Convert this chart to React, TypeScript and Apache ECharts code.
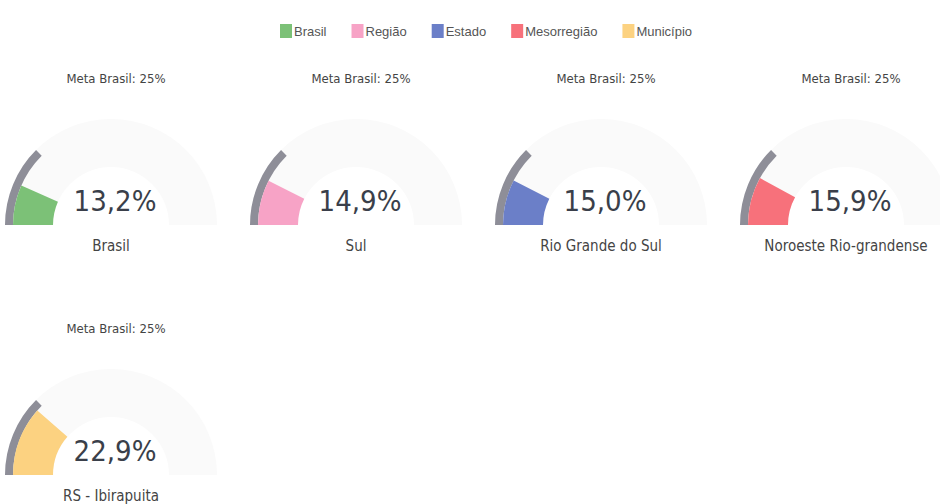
import React, { useEffect, useRef } from "react";
import * as echarts from "echarts";

const names = ["Brasil", "Sul", "Rio Grande do Sul", "Noroeste Rio-grandense", "RS - Ibirapuita"];
const levels = ["Brasil", "Região", "Estado", "Mesorregião", "Município"];
const values = [13.2, 14.9, 15.0, 15.9, 22.9];
const metaValue = 25;
const metaLabel = "Meta Brasil: 25%";
const colors = ["#7cc177", "#f7a3c6", "#6b7fc8", "#f7717b", "#fcd281"];

const FONT = "'DejaVu Sans Condensed', 'Liberation Sans Narrow', 'Open Sans', sans-serif";

export default function App() {
  const ref = useRef<HTMLDivElement>(null);
  useEffect(() => {
    if (!ref.current) return;
    const chart = echarts.init(ref.current, undefined, { renderer: "svg" });
    const colX = [111, 356, 601, 846];
    const rowY = [225, 475];
    const R = 106;
    const band = 8;
    const r0 = 58;
    const series: any[] = [];
    const titles: any[] = [];
    values.forEach((v, i) => {
      const cx = colX[i % 4];
      const cy = rowY[Math.floor(i / 4)];
      const base = {
        type: "gauge",
        center: [cx, cy],
        startAngle: 180,
        endAngle: 0,
        min: 0,
        max: 100,
        pointer: { show: false },
        axisTick: { show: false },
        splitLine: { show: false },
        axisLabel: { show: false },
        silent: true,
      };
      series.push({
        ...base,
        name: "bg" + i,
        radius: R,
        axisLine: { lineStyle: { width: R - r0, color: [[1, "#fafafa"]] } },
        title: { show: false },
        detail: { show: false },
        data: [{ value: 0 }],
      });
      series.push({
        ...base,
        name: "meta" + i,
        radius: R,
        axisLine: { show: false },
        progress: { show: true, width: band, itemStyle: { color: "#8e8e98" } },
        title: { show: false },
        detail: { show: false },
        data: [{ value: metaValue }],
      });
      series.push({
        ...base,
        name: levels[i],
        radius: R - band,
        axisLine: { show: false },
        itemStyle: { color: colors[i] },
        progress: { show: true, width: R - band - r0, itemStyle: { color: colors[i] } },
        title: {
          show: true,
          offsetCenter: [0, 21],
          fontSize: 15,
          color: "#444",
          fontFamily: FONT,
        },
        detail: {
          show: true,
          offsetCenter: [4, -24],
          fontSize: 29,
          fontWeight: "normal",
          color: "#3a3f4a",
          fontFamily: FONT,
          formatter: (val: number) => val.toFixed(1).replace(".", ",") + "%",
        },
        data: [{ value: v, name: names[i] }],
      });
      titles.push({
        text: metaLabel,
        left: cx,
        top: cy - 158,
        textAlign: "center",
        textStyle: { fontSize: 13, fontWeight: "normal", color: "#444", fontFamily: FONT },
      });
    });
    chart.setOption({
      animation: false,
      backgroundColor: "#ffffff",
      title: titles,
      color: colors,
      legend: {
        data: levels.map((n, i) => ({ name: n, itemStyle: { color: colors[i] } })),
        left: 275,
        top: 19,
        icon: "rect",
        itemWidth: 12,
        itemHeight: 14,
        itemGap: 25,
        selectedMode: false,
        textStyle: { fontSize: 13, color: "#555", fontFamily: "'Liberation Sans', Arial, sans-serif", padding: [0, 0, 0, -3] },
      },
      series,
    });
    return () => chart.dispose();
  }, []);
  return <div ref={ref} style={{ width: 940, height: 504, position: "absolute", left: 0, top: 0 }} />;
}
